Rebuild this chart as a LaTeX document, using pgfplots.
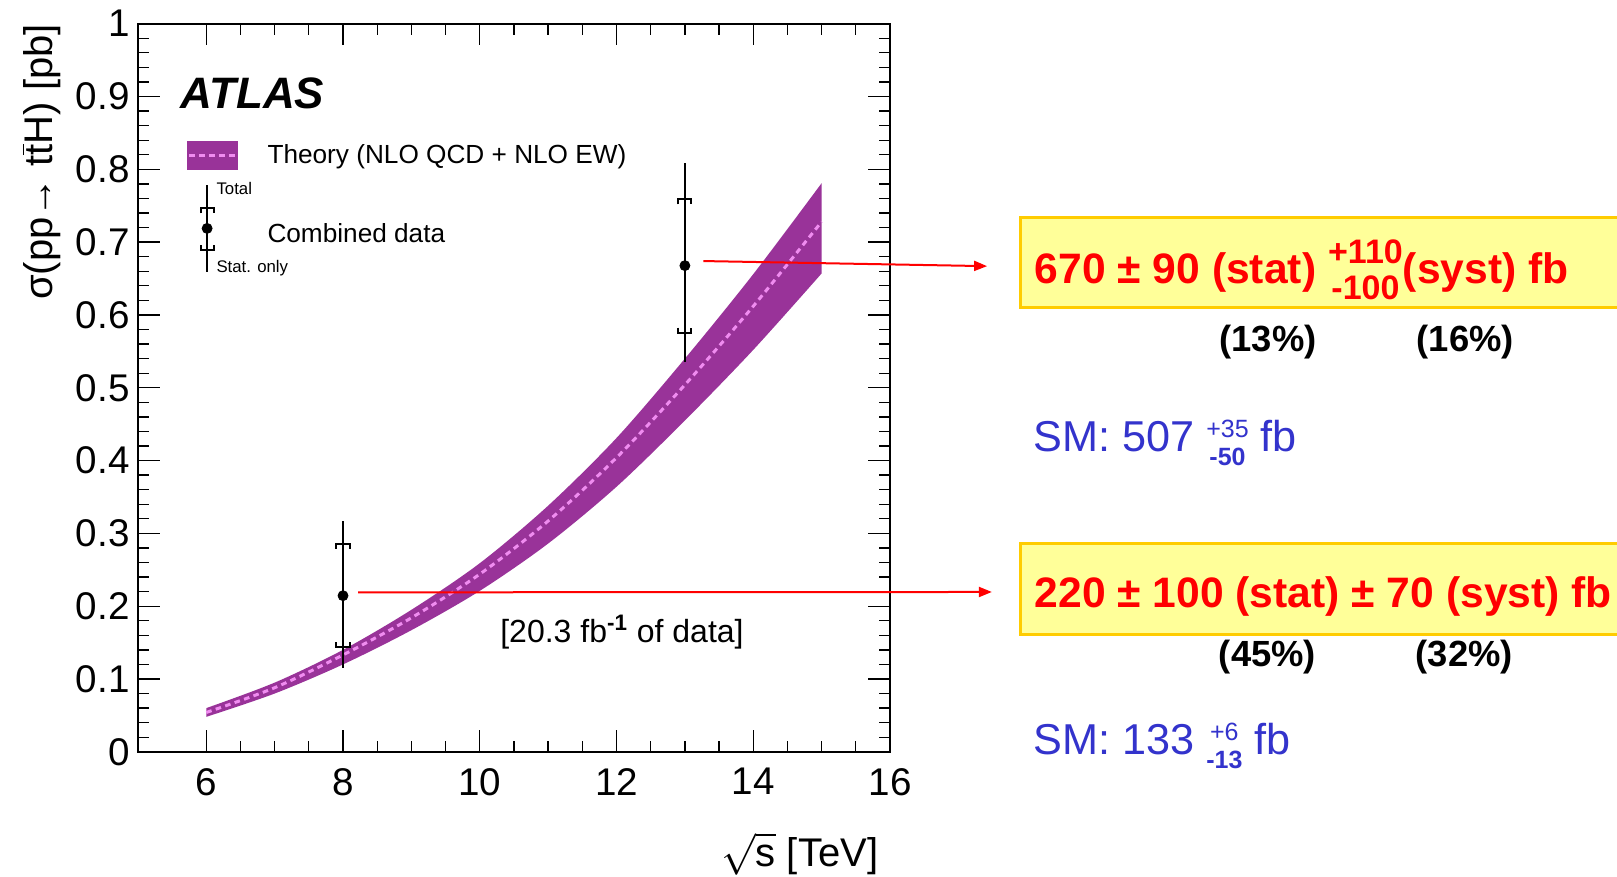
\documentclass[border=0pt]{standalone}
\usepackage{fontspec}
\setmainfont{Liberation Sans}
\usepackage{pgfplots}
\pgfplotsset{compat=1.18}
\usepackage{pgfplotstable}
\usepgfplotslibrary{fillbetween}
\usetikzlibrary{arrows.meta}

\definecolor{bandcol}{RGB}{153,51,153}
\definecolor{pinkc}{RGB}{240,140,240}
\definecolor{smblue}{RGB}{51,51,204}
\definecolor{boxfill}{RGB}{255,255,153}
\definecolor{boxborder}{RGB}{255,204,0}

\pgfdeclareplotmark{capt}{%
  \pgfpathmoveto{\pgfqpoint{-3.3pt}{-2.5pt}}%
  \pgfpathlineto{\pgfqpoint{-3.3pt}{0pt}}%
  \pgfpathlineto{\pgfqpoint{3.3pt}{0pt}}%
  \pgfpathlineto{\pgfqpoint{3.3pt}{-2.5pt}}%
  \pgfusepathqstroke}
\pgfdeclareplotmark{capb}{%
  \pgfpathmoveto{\pgfqpoint{-3.3pt}{2.5pt}}%
  \pgfpathlineto{\pgfqpoint{-3.3pt}{0pt}}%
  \pgfpathlineto{\pgfqpoint{3.3pt}{0pt}}%
  \pgfpathlineto{\pgfqpoint{3.3pt}{2.5pt}}%
  \pgfusepathqstroke}

\newcommand{\stkA}[2]{{\fontsize{17}{18}\selectfont\begin{tabular}[c]{@{}c@{}}#1\\#2\end{tabular}}}
\newcommand{\stkB}[2]{{\fontsize{12.5}{14}\selectfont\begin{tabular}[c]{@{}c@{}}#1\\#2\end{tabular}}}

% theory band: sqrt(s) [TeV], upper, central, lower [pb]
\pgfplotstableread{
x    up    mid   lo
6.0  0.060 0.054 0.048
7.0  0.095 0.088 0.080
8.0  0.140 0.133 0.120
9.0  0.195 0.184 0.167
10.0 0.259 0.244 0.221
11.0 0.338 0.317 0.286
12.0 0.431 0.404 0.364
13.0 0.540 0.504 0.455
14.0 0.656 0.612 0.552
15.0 0.781 0.728 0.657
}\band

% combined data: value, total error (+/-)
\pgfplotstableread{
x  y      ep    em
8  0.2144 0.103 0.0997
13 0.6677 0.141 0.132
}\data

\begin{document}
\begin{tikzpicture}
\begin{axis}[
  at={(68.95pt,62.6pt)}, anchor=south west,
  scale only axis, width=376.05pt, height=364.05pt,
  xmin=5, xmax=16, ymin=0, ymax=1,
  clip=false,
  xtick={6,8,10,12,14,16}, minor x tick num=3,
  ytick={0,0.1,0.2,0.3,0.4,0.5,0.6,0.7,0.8,0.9,1}, minor y tick num=4,
  tick align=inside,
  major tick length=10.8pt, minor tick length=5.6pt,
  tick style={line width=0.65pt, black},
  axis line style={line width=0.85pt},
  /pgf/number format/assume math mode=true,
  ticklabel style={font=\fontsize{19.3}{22}\selectfont, inner sep=0pt},
  yticklabel style={/pgf/number format/fixed, /pgf/number format/precision=1},
  xticklabel shift=8pt, yticklabel shift=4pt,
  xlabel={\(\sqrt{\mbox{s}}\) [TeV]},
  ylabel={σ(pp→ t\(\overline{\mbox{t}}\)H) [pb]},
  label style={font=\fontsize{20}{24}\selectfont, inner sep=0pt},
  xlabel style={at={(rel axis cs:0.9848,-0.1402)}, anchor=east},
  ylabel style={at={(rel axis cs:-0.1284,1)}, anchor=east},
  legend cell align=left,
  legend style={at={(rel axis cs:0.0649,0.8393)}, anchor=north west,
    draw=none, fill=none, inner sep=0pt, outer sep=0pt,
    row sep=24.35pt, column sep=13pt,
    font=\fontsize{13.1}{15}\selectfont,
    cells={anchor=west, inner sep=0pt, text height=9.5pt, text depth=0pt}},
]
\addplot[name path=up, draw=none, smooth, forget plot] table[x=x, y=up] {\band};
\addplot[name path=lo, draw=none, smooth, forget plot] table[x=x, y=lo] {\band};
\addplot[bandcol, forget plot] fill between[of=up and lo];
\addplot[pinkc, line width=1.5pt, smooth, dash pattern=on 2.8pt off 2.2pt, forget plot] table[x=x, y=mid] {\band};

\draw[red, line width=1pt, -{Triangle[length=6.5pt,width=5pt]}] (axis cs:13.27,0.674) -- (axis cs:17.42,0.667);
\draw[red, line width=1pt, -{Triangle[length=6.5pt,width=5pt]}] (axis cs:8.22,0.219) -- (axis cs:17.49,0.2195);

\addplot[black, only marks, mark=*, mark size=2.5pt, forget plot,
  error bars/.cd, y dir=both, y explicit, error mark=none,
  error bar style={line width=1.35pt, black}]
  table[x=x, y=y, y error plus=ep, y error minus=em] {\data};
\addplot[black, only marks, mark=capt, mark options={line width=1pt}, forget plot]
  coordinates {(8,0.2854) (13,0.7587)};
\addplot[black, only marks, mark=capb, mark options={line width=1pt}, forget plot]
  coordinates {(8,0.1434) (13,0.5757)};

\addlegendimage{legend image code/.code={
  \fill[bandcol] (0pt,-7.1pt) rectangle (25pt,7.1pt);
  \draw[pinkc, line width=1.3pt, dash pattern=on 2.8pt off 2.2pt] (1pt,0pt) -- (24pt,0pt);}}
\addlegendentry{Theory (NLO QCD + NLO EW)}
\addlegendimage{legend image code/.code={
  \path[draw=none, fill=none] (0pt,-4pt) rectangle (25pt,4pt);
  \begin{scope}[overlay]
  \draw[black, line width=1.35pt] (10pt,24.5pt) -- (10pt,-18.7pt);
  \draw[black, line width=1pt] (6.7pt,10.5pt) -- (6.7pt,13pt) -- (13.3pt,13pt) -- (13.3pt,10.5pt);
  \draw[black, line width=1pt] (6.7pt,-5.5pt) -- (6.7pt,-8pt) -- (13.3pt,-8pt) -- (13.3pt,-5.5pt);
  \fill[black] (10pt,3pt) circle (2.5pt);
  \node[anchor=west, inner sep=0pt, font=\fontsize{8.4}{9}\selectfont] at (14.7pt,23.8pt) {Total};
  \node[anchor=west, inner sep=0pt, font=\fontsize{8.4}{9}\selectfont] at (14.7pt,-15pt) {Stat. only};
  \end{scope}}}
\addlegendentry{Combined data}

\node[anchor=west, inner sep=0pt, font=\bfseries\itshape\fontsize{22}{26}\selectfont] at (rel axis cs:0.0566,0.905) {ATLAS};
\node[inner sep=0pt, font=\fontsize{16}{18}\selectfont] at (axis cs:12.08,0.1643) {[20.3 fb\textsuperscript{\textbf{-1}} of data]};
\end{axis}

\begin{scope}[x=0.5pt, y=-0.5pt, shift={(0pt,438.5pt)}]
  \draw[line width=1.5pt, draw=boxborder, fill=boxfill] (1020,217.6) rectangle (1660,307.3);
  \draw[line width=1.5pt, draw=boxborder, fill=boxfill] (1020,543.5) rectangle (1660,634.2);
  \node[anchor=base west, inner sep=0pt, text=red, font=\bfseries\fontsize{21.3}{24}\selectfont] at (1034.4,283.3)
    {670 ± 90 (stat) \stkA{+110}{-100}(syst) fb};
  \node[inner sep=0pt, font=\bfseries\fontsize{18.2}{20}\selectfont] at (1268,342.4) {(13\%)};
  \node[inner sep=0pt, font=\bfseries\fontsize{18.2}{20}\selectfont] at (1465.4,342.4) {(16\%)};
  \node[anchor=base west, inner sep=0pt, text=smblue, font=\fontsize{21.6}{24}\selectfont] at (1033,451.7)
    {SM: 507 \stkB{+35}{\textbf{-50}} fb};
  \node[anchor=base west, inner sep=0pt, text=red, font=\bfseries\fontsize{21.3}{24}\selectfont] at (1034.4,607.3)
    {220 ± 100 (stat) ± 70 (syst) fb};
  \node[inner sep=0pt, font=\bfseries\fontsize{18.2}{20}\selectfont] at (1267.5,657) {(45\%)};
  \node[inner sep=0pt, font=\bfseries\fontsize{18.2}{20}\selectfont] at (1464.4,657) {(32\%)};
  \node[anchor=base west, inner sep=0pt, text=smblue, font=\fontsize{21.6}{24}\selectfont] at (1033,755)
    {SM: 133 \stkB{+6}{\textbf{-13}} fb};
\end{scope}
\pgfresetboundingbox
\path[use as bounding box] (0,0) rectangle (808.5pt,438.5pt);
\end{tikzpicture}
\end{document}
